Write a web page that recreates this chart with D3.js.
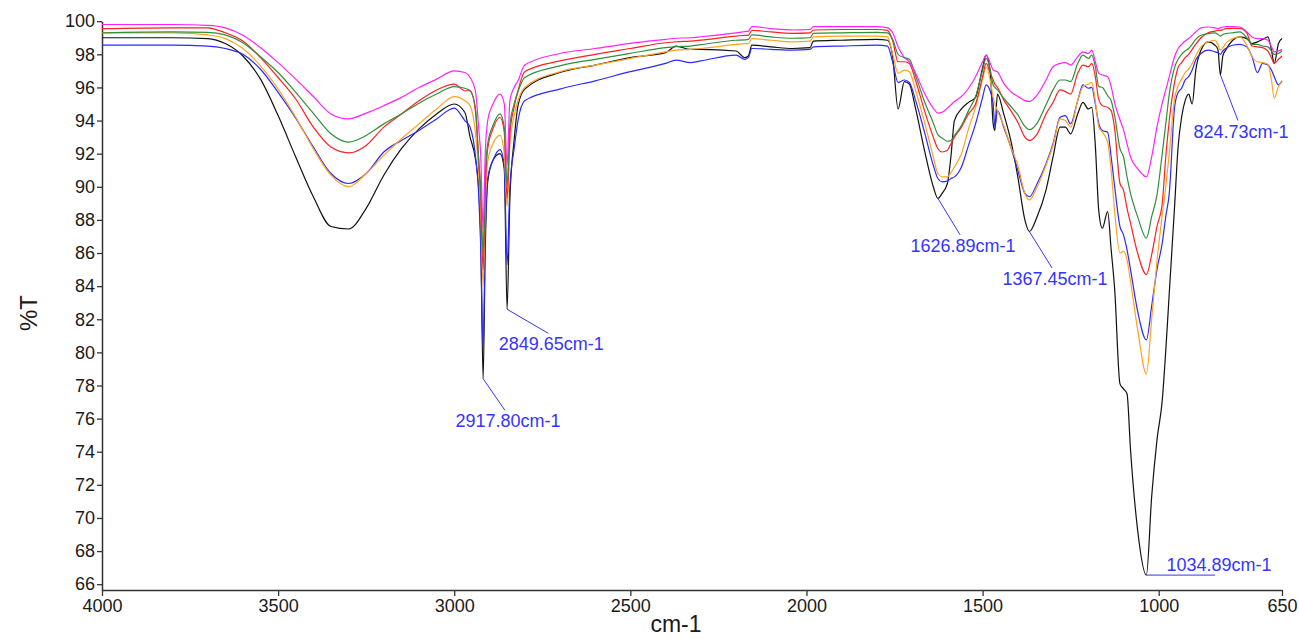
<!DOCTYPE html>
<html>
<head>
<meta charset="utf-8">
<style>
  body { margin: 0; background: #fff; }
  svg { font-family: "Liberation Sans", Arial, sans-serif; }
</style>
</head>
<body>
<svg id="container" width="1299" height="639"></svg>

<script src="https://d3js.org/d3.v7.min.js"></script>
<script>
  // FTIR spectra, %T against wavenumber (cm-1), six samples

  // wavenumber grid shared by every trace
  const wavenumbers = [
    4000, 3800, 3700, 3650, 3600, 3550, 3500, 3450, 3400, 3350,
    3300, 3250, 3200, 3150, 3100, 3050, 3000, 2970, 2955, 2940,
    2930, 2925, 2918, 2912, 2905, 2890, 2870, 2858, 2850, 2842,
    2830, 2819, 2800, 2700, 2600, 2500, 2400, 2370, 2330, 2300,
    2200, 2175, 2165, 2155, 2100, 2040, 1990, 1980, 1900, 1800,
    1770, 1755, 1740, 1722, 1708, 1690, 1665, 1640, 1627, 1615,
    1600, 1590, 1580, 1560, 1540, 1520, 1500, 1490, 1478, 1470,
    1465, 1458, 1440, 1420, 1400, 1380, 1367, 1345, 1320, 1300,
    1280, 1265, 1250, 1230, 1215, 1200, 1190, 1180, 1170, 1160,
    1145, 1135, 1125, 1110, 1100, 1090, 1080, 1060, 1035, 1020,
    1005, 990, 980, 970, 955, 945, 935, 925, 915, 905,
    895, 880, 860, 840, 832, 825, 818, 810, 790, 770,
    750, 735, 720, 705, 690, 680, 672, 660, 650
  ]

  const blackT = [
    99.0, 99.0, 98.95, 98.65, 97.9, 96.5, 94.3, 91.8, 89.4, 87.6,
    87.45, 88.7, 90.7, 92.3, 93.5, 94.4, 95.0, 94.5, 93.0, 91.7,
    89.7, 87.2, 78.4, 86.2, 90.3, 91.6, 92.0, 91.1, 82.6, 89.3,
    92.8, 94.9, 95.9, 96.9, 97.35, 97.8, 98.1, 98.5, 98.3, 98.3,
    98.2, 97.8, 97.9, 98.55, 98.45, 98.35, 98.4, 98.8, 98.85, 98.9,
    98.85, 97.8, 94.7, 96.35, 96.2, 94.7, 92.2, 90.0, 89.3, 89.6,
    90.2, 91.8, 94.0, 94.7, 95.1, 95.4, 97.2, 97.95, 96.85, 93.8,
    93.4, 95.6, 94.4, 92.8, 90.6, 88.0, 87.3, 88.2, 89.8, 91.8,
    93.6, 93.6, 93.2, 94.4, 95.1, 94.7, 94.8, 92.5, 88.5, 87.5,
    88.5, 86.2, 83.8, 78.1, 77.8, 77.5, 74.1, 69.3, 66.55, 71.3,
    74.7, 77.1, 80.1, 83.6, 88.8, 92.4, 94.2, 95.2, 95.6, 95.0,
    97.0, 98.25, 98.75, 98.55, 98.3, 96.75, 97.9, 98.25, 98.85, 99.05,
    98.95, 98.65, 98.75, 98.9, 99.05, 98.25, 97.45, 98.65, 98.95
  ]

  const blueT = [
    98.55, 98.55, 98.5, 98.35, 98.0, 97.1, 95.7, 94.15, 92.4, 90.8,
    90.2, 90.8, 92.1, 92.8, 93.4, 94.1, 94.75, 94.0, 93.6, 91.9,
    89.3, 86.5, 80.3, 87.0, 90.5, 91.6, 92.25, 91.3, 85.3, 90.0,
    92.3, 94.0, 95.2, 95.9, 96.4, 96.95, 97.45, 97.65, 97.5, 97.6,
    97.95, 97.7, 97.8, 98.35, 98.3, 98.25, 98.3, 98.45, 98.5, 98.55,
    98.5, 97.5, 96.3, 96.45, 96.3, 95.2, 93.3, 91.3, 90.5, 90.3,
    90.35, 90.5, 90.6, 91.2, 92.5, 93.8, 95.4, 96.15, 95.75, 95.0,
    93.6, 94.6, 93.6, 92.4, 91.0, 89.6, 89.4, 90.2, 91.4, 92.6,
    94.2, 94.3, 93.8, 95.2, 96.15, 95.95, 96.0, 95.0, 93.8, 93.4,
    93.3, 91.8, 90.0, 87.6, 87.1, 86.2, 85.0, 82.5, 80.75, 82.8,
    85.0, 86.6, 88.2, 89.6, 94.8, 95.7, 95.95, 96.45, 96.65, 97.05,
    97.65, 98.05, 98.25, 98.15, 98.1, 98.0, 98.2, 98.35, 98.55, 98.6,
    98.45, 97.85, 96.9, 97.45, 97.35, 97.05, 96.65, 96.15, 96.4
  ]

  const orangeT = [
    99.3, 99.3, 99.17, 98.95, 98.35, 97.3, 95.9, 94.2, 92.3, 90.7,
    90.0, 90.8, 91.9, 92.9, 93.8, 94.7, 95.45, 95.2, 94.9, 93.3,
    90.7, 88.5, 84.0, 88.8, 91.5, 92.6, 93.1, 92.0, 88.8, 92.5,
    94.3, 95.2, 96.0, 96.95, 97.35, 97.75, 98.15, 98.25, 98.3, 98.35,
    98.6, 98.65, 98.65, 98.95, 98.85, 98.75, 98.8, 99.05, 99.1, 99.1,
    99.05, 98.0, 96.85, 97.05, 96.95, 95.8, 93.9, 91.8, 90.8, 90.6,
    90.6, 90.85, 91.2, 92.0, 93.5, 94.8, 96.5, 97.25, 96.4, 95.4,
    95.0, 94.6, 93.7, 92.4, 91.3, 89.6, 89.2, 90.0, 91.3, 92.5,
    94.1, 94.0, 93.6, 95.2, 96.05, 96.2, 96.3, 95.2, 93.6, 93.3,
    92.7, 91.0, 88.5, 86.0, 86.1, 85.6, 84.3, 81.4, 78.7, 82.0,
    85.5, 88.3, 90.0, 92.0, 95.3, 96.1, 96.5, 96.9, 97.1, 97.45,
    97.9, 98.45, 98.75, 98.85, 98.6, 98.25, 98.4, 98.65, 98.95, 99.05,
    98.55, 97.85, 97.55, 97.5, 97.4, 96.45, 95.35, 96.05, 96.35
  ]

  const redT = [
    99.55, 99.6, 99.6, 99.3, 98.8, 97.8, 96.6, 95.3, 93.6, 92.4,
    92.05, 92.5, 93.6, 94.4, 95.2, 95.85, 96.2, 95.8, 95.8, 94.6,
    91.3, 89.5, 85.0, 89.8, 92.3, 93.5, 94.2, 93.3, 89.3, 93.2,
    94.8, 95.8, 96.95, 97.6, 98.0, 98.35, 98.7, 98.76, 98.8, 98.86,
    99.1, 99.15, 99.15, 99.45, 99.35, 99.27, 99.3, 99.47, 99.5, 99.5,
    99.45, 98.8, 97.55, 97.55, 97.45, 96.4, 94.6, 93.0, 92.3, 92.1,
    92.2, 92.6, 93.0, 93.6, 94.4, 95.0, 96.65, 97.45, 96.85, 96.45,
    96.2, 96.0, 95.25, 94.6, 93.9, 93.0, 92.8, 93.2, 94.4, 95.1,
    95.85, 95.75, 95.6, 96.85, 97.35, 97.25, 97.45, 96.65, 95.25, 94.9,
    94.8, 94.6, 93.5, 90.2, 89.8, 88.7, 87.8, 86.0, 84.7, 85.9,
    87.6, 89.0, 91.8, 94.0, 96.3, 97.2, 97.5, 97.8, 98.0, 98.3,
    98.6, 99.0, 99.3, 99.4, 99.45, 99.45, 99.5, 99.55, 99.57, 99.57,
    99.3, 98.5, 98.45, 98.4, 98.2, 97.8, 97.45, 97.7, 97.9
  ]

  const greenT = [
    99.3, 99.35, 99.33, 99.17, 98.7, 97.85, 96.9, 95.7, 94.44, 93.2,
    92.7, 93.1, 93.8, 94.4, 95.05, 95.6, 96.05, 95.95, 95.8, 94.8,
    91.5, 90.0, 86.0, 90.5, 92.6, 93.7, 94.4, 93.6, 90.1, 93.7,
    95.0, 95.75, 96.6, 97.3, 97.7, 98.06, 98.4, 98.46, 98.5, 98.58,
    98.85, 98.87, 98.9, 99.17, 99.05, 98.97, 99.0, 99.27, 99.3, 99.33,
    99.3, 98.9, 98.0, 97.8, 97.7, 96.7, 95.15, 93.85, 93.15, 92.95,
    92.75, 92.8, 93.1, 93.7, 94.6, 95.45, 97.05, 97.75, 97.05, 96.15,
    96.0, 95.85, 95.35, 94.85, 94.35, 93.65, 93.45, 93.85, 94.95, 95.85,
    96.45, 96.45, 96.35, 97.45, 97.95, 97.75, 97.95, 97.25, 96.05, 96.0,
    95.5, 95.2, 94.3, 92.3, 91.8, 90.6, 89.6, 88.2, 86.9, 88.2,
    89.5, 92.0, 93.8, 95.6, 97.2, 97.7, 98.0, 98.2, 98.35, 98.6,
    98.9, 99.15, 99.25, 99.3, 99.2, 99.1, 99.2, 99.25, 99.3, 99.35,
    99.0, 98.6, 98.6, 98.5, 98.45, 98.2, 98.0, 98.05, 98.2
  ]

  const magentaT = [
    99.8, 99.8, 99.75, 99.6, 99.15, 98.4, 97.5, 96.5, 95.45, 94.4,
    94.1, 94.45, 94.9, 95.4, 96.0, 96.5, 97.0, 96.9, 96.6, 95.8,
    93.4, 92.0, 87.5, 92.0, 94.0, 95.0, 95.6, 95.0, 91.3, 95.2,
    96.0, 96.4, 97.35, 98.05, 98.35, 98.66, 98.9, 98.97, 99.0, 99.06,
    99.3, 99.37, 99.4, 99.67, 99.55, 99.47, 99.5, 99.67, 99.67, 99.67,
    99.6, 99.3, 98.45, 97.8, 97.55, 96.85, 95.65, 94.75, 94.45, 94.5,
    94.75, 94.95, 95.15, 95.45, 95.95, 96.65, 97.55, 97.95, 97.45, 97.05,
    97.0, 96.95, 96.25, 95.75, 95.45, 95.2, 95.15, 95.55, 96.45, 97.25,
    97.45, 97.5, 97.35, 97.85, 98.15, 98.05, 98.25, 97.55, 96.85, 96.75,
    96.65, 96.05, 95.05, 94.05, 93.45, 92.6, 91.8, 91.1, 90.6, 91.8,
    93.6, 95.05, 95.85, 96.65, 97.85, 98.35, 98.6, 98.8, 98.95, 99.15,
    99.35, 99.6, 99.65, 99.6, 99.55, 99.6, 99.65, 99.67, 99.67, 99.65,
    99.35, 99.05, 98.95, 98.95, 98.85, 98.45, 98.15, 98.2, 98.3
  ]

  // axis ticks
  const xTicks = [4000, 3500, 3000, 2500, 2000, 1500, 1000, 650]
  const yTicks = [66, 68, 70, 72, 74, 76, 78, 80, 82, 84, 86, 88, 90, 92, 94, 96, 98, 100]

  // peak labels: tip on the black trace, leader line end
  const peakLabels = ['2917.80cm-1', '2849.65cm-1', '1626.89cm-1', '1367.45cm-1', '824.73cm-1', '1034.89cm-1']
  const peakWn = [2917.8, 2849.65, 1626.89, 1367.45, 824.73, 1034.89]
  const peakT = [78.4, 82.6, 89.3, 87.3, 96.75, 66.55]
  const leaderWn = [2856, 2733, 1564, 1303, 775, 840]
  const leaderT = [76.5, 81.15, 87.1, 85.1, 94.0, 66.55]

  // drawing order, last one ends up on top
  const series = [
    { name: 'black', color: '#111111', values: blackT },
    { name: 'blue', color: '#2a2aff', values: blueT },
    { name: 'orange', color: '#ffa21f', values: orangeT },
    { name: 'red', color: '#ff2020', values: redT },
    { name: 'green', color: '#2f8f3a', values: greenT },
    { name: 'magenta', color: '#ff22ff', values: magentaT }
  ]

  const svg = d3.select('#container')

  const xScale = d3.scaleLinear()
    .domain([4000, 650])   // wavenumber runs right to left
    .range([102, 1282])

  const yScale = d3.scaleLinear()
    .domain([65.65, 100])
    .range([590, 21.2])

  // axes
  const xAxis = d3.axisBottom(xScale)
    .tickValues(xTicks)
    .tickFormat(d3.format('d'))
    .tickSize(6)
    .tickSizeOuter(0)
    .tickPadding(3)

  const yAxis = d3.axisLeft(yScale)
    .tickValues(yTicks)
    .tickFormat(d3.format('d'))
    .tickSize(5)
    .tickSizeOuter(0)
    .tickPadding(2)

  const gx = svg.append('g')
    .attr('transform', `translate(0, ${yScale.range()[0]})`)
    .call(xAxis)

  const gy = svg.append('g')
    .attr('transform', `translate(${xScale.range()[0]}, 0)`)
    .call(yAxis)

  ;[gx, gy].forEach(g => {
    g.select('.domain').attr('stroke', '#333').attr('stroke-width', 1.5)
    g.selectAll('.tick line').attr('stroke', '#333').attr('stroke-width', 1.3)
    g.selectAll('.tick text')
      .attr('fill', '#1a1a1a')
      .style('font-size', '18px')
      .style('font-family', '"Liberation Sans", Arial, sans-serif')
  })

  // axis titles
  svg.append('text')
    .attr('x', 676)
    .attr('y', 632)
    .attr('text-anchor', 'middle')
    .style('font-size', '23px')
    .attr('fill', '#1a1a1a')
    .text('cm-1')

  svg.append('text')
    .attr('transform', 'translate(37, 313) rotate(-90)')
    .attr('text-anchor', 'middle')
    .style('font-size', '24px')
    .attr('fill', '#1a1a1a')
    .text('%T')

  // spectra
  const line = d3.line()
    .x((d, i) => xScale(wavenumbers[i]))
    .y(d => yScale(d))
    .curve(d3.curveMonotoneX)

  svg.append('g')
    .selectAll('path')
    .data(series)
    .enter()
    .append('path')
    .attr('d', d => line(d.values))
    .attr('fill', 'none')
    .attr('stroke', d => d.color)
    .attr('stroke-width', 1.2)
    .attr('stroke-linejoin', 'round')

  // peak annotations
  const annColor = '#3535ff'
  const ann = svg.append('g')

  peakLabels.forEach((label, i) => {
    const x0 = xScale(peakWn[i]), y0 = yScale(peakT[i])
    const x1 = xScale(leaderWn[i]), y1 = yScale(leaderT[i])
    ann.append('line')
      .attr('x1', x0).attr('y1', y0)
      .attr('x2', x1).attr('y2', y1)
      .attr('stroke', annColor)
      .attr('stroke-width', 1)

    // horizontal leader: text sits above it, otherwise below the line end
    const flat = Math.abs(y1 - y0) < 1
    ann.append('text')
      .attr('x', flat ? x0 + 20 : x1 + 3)
      .attr('y', flat ? y0 - 4 : y1 + 17)
      .attr('text-anchor', flat ? 'start' : 'middle')
      .style('font-size', '18px')
      .attr('fill', annColor)
      .text(label)
  })
</script>
</body>
</html>
